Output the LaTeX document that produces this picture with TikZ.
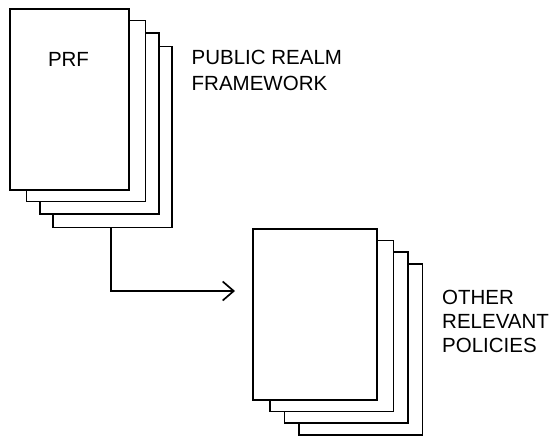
\documentclass[tikz,border=0pt]{standalone}
\usepackage{fontspec}
\setmainfont{Liberation Sans}
\usetikzlibrary{arrows.meta}

\begin{document}
\begin{tikzpicture}[x=1pt, y=-1pt,
    page/.style={draw=black, fill=white, line width=1.7pt, outer sep=0pt,
      inner sep=0pt, anchor=north west},
    label/.style={anchor=base west, inner sep=0pt, align=left}]
  \useasboundingbox (0,0) rectangle (553,436);
  \def\pw{119}
  \def\ph{181}
  \def\qw{123.5}
  \def\qh{171}

  % public realm framework
  \node[page, minimum width=\pw, minimum height=\ph] (prf4) at (53.3, 46.5) {};
  \node[page, minimum width=\pw, minimum height=\ph] (prf3) at (40, 32.8) {};
  \node[page, minimum width=\pw, minimum height=\ph] (prf2) at (26.5, 20.5) {};
  \node[page, minimum width=\pw, minimum height=\ph] (prf1) at (10, 9) {};
  \node[anchor=base, inner sep=0pt, font=\fontsize{20.5}{24}\selectfont]
    (prftitle) at (68.5, 66.5) {PRF};
  % base of a multi-line label is its last line
  \node[label, font=\fontsize{20.5}{26.7}\selectfont]
    (prflabel) at (191.5, 90.7) {PUBLIC REALM\\FRAMEWORK};

  % other relevant policies
  \node[page, minimum width=\qw, minimum height=\qh] (orp4) at (299, 264) {};
  \node[page, minimum width=\qw, minimum height=\qh] (orp3) at (284.5, 252) {};
  \node[page, minimum width=\qw, minimum height=\qh] (orp2) at (270, 240.5) {};
  \node[page, minimum width=\qw, minimum height=\qh] (orp1) at (253.3, 229) {};
  \node[label, font=\fontsize{20.5}{24.3}\selectfont]
    (orplabel) at (442, 352.7) {OTHER\\RELEVANT\\POLICIES};

  \coordinate (tip) at (235, 291);
  \draw[line width=1.7pt, -{Straight Barb[length=11pt, width=19pt]}]
    ([xshift=-2pt]prf4.south) |- (tip);
\end{tikzpicture}
\end{document}
